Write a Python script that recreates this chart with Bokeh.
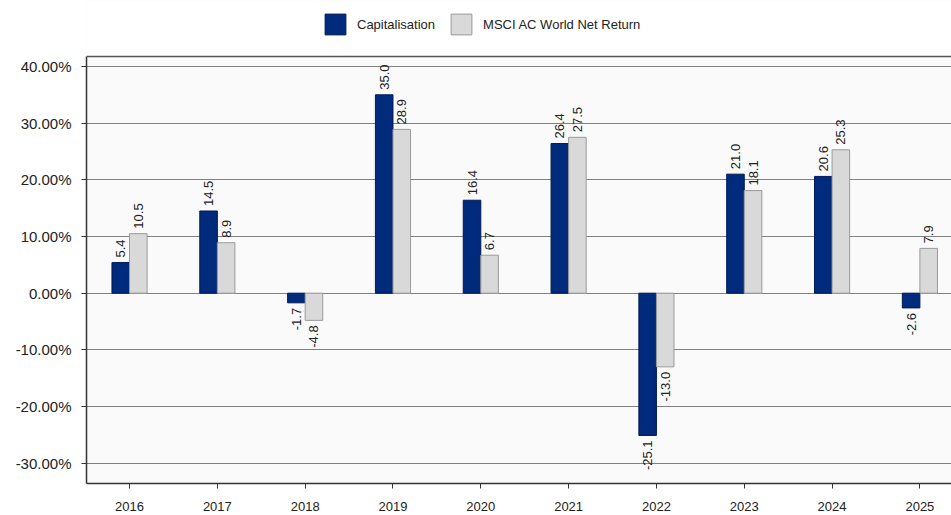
import math
from bokeh.plotting import figure
from bokeh.models import (ColumnDataSource, FixedTicker, Range1d, Legend, LegendItem, Span,
                          BoxAnnotation)
from bokeh.core.properties import value
from bokeh.embed import file_html
from bokeh.resources import INLINE

years = ["2016", "2017", "2018", "2019", "2020", "2021", "2022", "2023", "2024", "2025"]
capitalisation = [5.4, 14.5, -1.7, 35.0, 16.4, 26.4, -25.1, 21.0, 20.6, -2.6]
msci = [10.5, 8.9, -4.8, 28.9, 6.7, 27.5, -13.0, 18.1, 25.3, 7.9]
y_ticks = [-30, -20, -10, 0, 10, 20, 30, 40]

FONT = "Liberation Sans"
NAVY = "#002a7c"
GREY = "#d9d9d9"

Y_LOW, Y_TOP, Y_CANVAS_TOP = -33.58, 41.76, 51.64

idx = list(range(len(years)))
bar_w = 0.2


def make_source(vals, shift):
    return ColumnDataSource(dict(
        x=[i + shift for i in idx],
        top=vals,
        lbl=["%.1f" % v for v in vals],
        align=["left" if v >= 0 else "right" for v in vals],
        yoff=[-5 if v >= 0 else 5 for v in vals],
    ))


src_c = make_source(capitalisation, -bar_w / 2)
src_m = make_source(msci, bar_w / 2)

p = figure(width=951, height=515, output_backend="svg", toolbar_location=None,
           x_range=Range1d(-0.49, 9.36), y_range=Range1d(Y_LOW, Y_CANVAS_TOP),
           min_border_left=86, min_border_right=0, min_border_top=0, min_border_bottom=32)
p.background_fill_color = "#fafafa"
p.border_fill_color = "white"
p.outline_line_color = None

r1 = p.vbar(x="x", top="top", bottom=0, width=bar_w, source=src_c,
            fill_color=NAVY, line_color="#001a55", line_width=1)
r2 = p.vbar(x="x", top="top", bottom=0, width=bar_w, source=src_m,
            fill_color=GREY, line_color="#9a9a9a", line_width=1)

for src in (src_c, src_m):
    p.text(x="x", y="top", text="lbl", source=src, angle=math.pi / 2,
           text_align="align", text_baseline="middle", y_offset="yoff",
           text_font=value(FONT), text_font_size="13px", text_color="#222222")

# white area above the plotting frame (legend zone)
p.add_layout(BoxAnnotation(bottom=Y_TOP, fill_color="white", fill_alpha=1.0,
                           line_color=None))
p.add_layout(Span(location=Y_TOP, dimension="width", line_color="#555555", line_width=1.5))

# axes
p.xgrid.visible = False
p.ygrid.grid_line_color = "#808080"
p.ygrid.grid_line_width = 1.2
p.yaxis.ticker = FixedTicker(ticks=y_ticks)
p.yaxis.major_label_overrides = {t: "%.2f%%" % t for t in y_ticks}
p.yaxis.bounds = (Y_LOW, Y_TOP)
p.xaxis.ticker = FixedTicker(ticks=idx)
p.xaxis.major_label_overrides = {i: y for i, y in zip(idx, years)}

for ax in (p.xaxis[0], p.yaxis[0]):
    ax.axis_line_color = "#333333"
    ax.axis_line_width = 1.5
    ax.major_tick_line_color = "#333333"
    ax.major_tick_in = 0
    ax.major_tick_out = 5
    ax.minor_tick_line_color = None
    ax.major_label_text_font = FONT
    ax.major_label_text_color = "#222222"

p.yaxis.major_label_text_font_size = "15px"
p.yaxis.major_label_standoff = 10
p.xaxis.major_label_text_font_size = "13px"
p.xaxis.major_label_standoff = 13

legend = Legend(items=[LegendItem(label="Capitalisation", renderers=[r1]),
                       LegendItem(label="MSCI AC World Net Return", renderers=[r2])],
                location=(236, 446), orientation="horizontal",
                glyph_width=26, glyph_height=26, label_standoff=9, spacing=13,
                padding=0, margin=0, border_line_color=None,
                background_fill_alpha=0,
                label_text_font=FONT, label_text_font_size="13px",
                label_text_color="#222222")
p.add_layout(legend, "center")

open("out.html", "w").write(file_html(p, INLINE))
